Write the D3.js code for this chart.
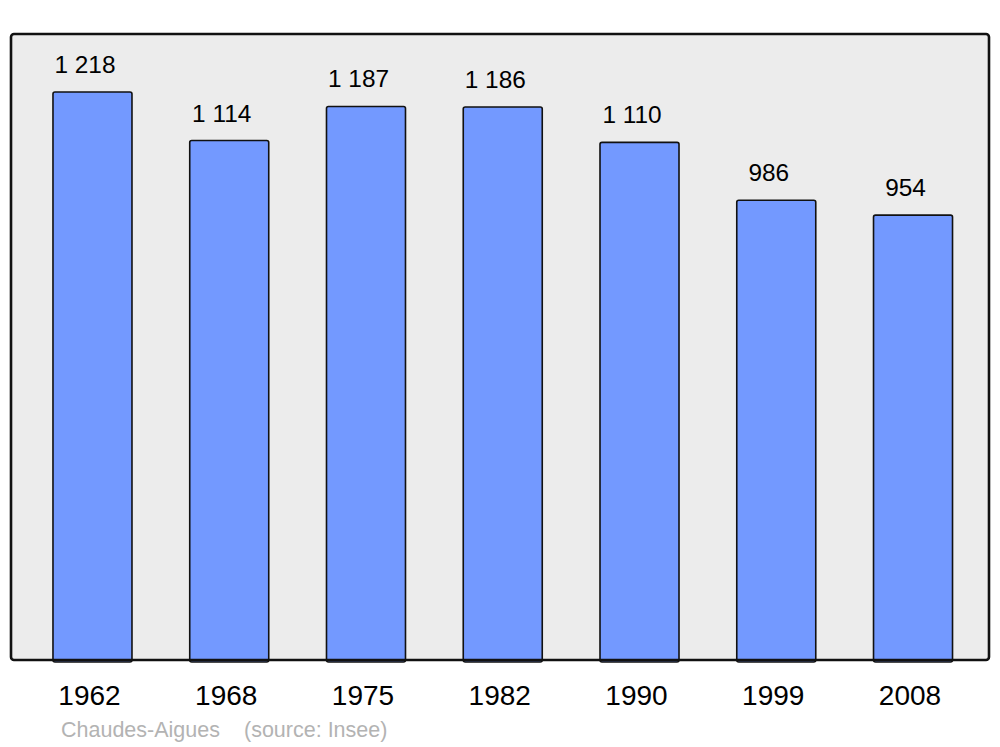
<!DOCTYPE html>
<html><head><meta charset="utf-8">
<script src="https://cdn.jsdelivr.net/npm/d3@7"></script>
<style>html,body{margin:0;padding:0;background:#fff}svg{display:block}</style>
</head><body>
<svg id="c" width="1000" height="747"></svg>
<script>
const years = ["1962","1968","1975","1982","1990","1999","2008"];
const population = [1218,1114,1187,1186,1110,986,954];
const valueLabels = ["1 218","1 114","1 187","1 186","1 110","986","954"];
const sourceText = ["Chaudes-Aigues", "(source: Insee)"];

const svg = d3.select("#c");
const font = "'Liberation Sans', Arial, sans-serif";

const x = d3.scaleBand().domain(years).range([14, 991.5]).paddingInner(0.4223).paddingOuter(0.285);
const y = d3.scaleLinear().domain([0, 1342.4]).range([660, 34]);

svg.append("rect").attr("x", 11).attr("y", 34).attr("width", 978).attr("height", 626)
  .attr("rx", 3).attr("fill", "#ececec");

svg.selectAll("rect.bar").data(years).join("rect").attr("class","bar")
  .attr("x", d => x(d)).attr("width", x.bandwidth())
  .attr("y", (d,i) => y(population[i])).attr("height", (d,i) => y(0) - y(population[i]) + 2)
  .attr("rx", 2).attr("fill", "#7399ff").attr("stroke", "#111").attr("stroke-width", 1.6);

svg.append("rect").attr("x", 11).attr("y", 34).attr("width", 978).attr("height", 626)
  .attr("rx", 3).attr("fill", "none").attr("stroke", "#111").attr("stroke-width", 2.6);

svg.selectAll("text.val").data(years).join("text").attr("class","val")
  .attr("x", d => x(d) + x.bandwidth()/2 - 7.5).attr("y", (d,i) => y(population[i]) - 19)
  .attr("text-anchor","middle").attr("font-family", font).attr("font-size", 24.4).attr("fill","#000")
  .text((d,i) => valueLabels[i]);

svg.selectAll("text.yr").data(years).join("text").attr("class","yr")
  .attr("x", d => x(d) + x.bandwidth()/2 - 3).attr("y", 705)
  .attr("text-anchor","middle").attr("font-family", font).attr("font-size", 28).attr("fill","#000")
  .text(d => d);

svg.append("text").attr("x", 61).attr("y", 737).attr("font-family", font).attr("font-size", 21.5)
  .attr("fill", "#b3b3b3").text(sourceText[0]);
svg.append("text").attr("x", 244).attr("y", 737).attr("font-family", font).attr("font-size", 21.5)
  .attr("fill", "#b3b3b3").text(sourceText[1]);
</script>
</body></html>
